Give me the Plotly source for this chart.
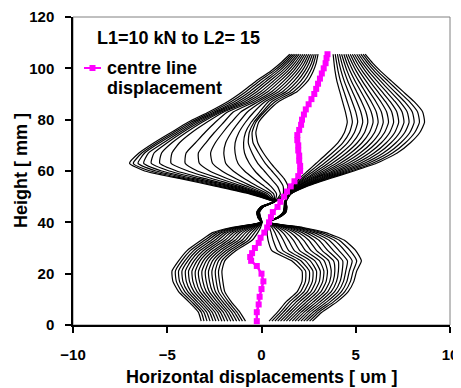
import plotly.graph_objects as go

# Heights (mm) at which every edge profile is sampled
HEIGHTS = [1.5, 5, 9, 13, 17, 21, 25, 29, 33, 36, 38, 40,
           42, 44, 46, 48,
           51, 54, 57, 60, 63, 67, 71, 75, 79, 83, 87, 91, 95, 99, 102, 105.5]

# Left-edge displacement profiles (um), outermost load step first
LEFT_LINES = [
    [-3.20,-3.35,-3.85,-4.40,-4.70,-4.75,-4.40,-3.95,-3.20,-2.60,-1.60,-0.05, -0.20,-0.25,-0.05,0.60, -0.60,-2.40,-4.30,-6.20,-7.00,-6.50,-5.70,-4.80,-3.90,-2.80,-1.80,-1.00,-0.30,0.50,1.00,1.50],
    [-3.05,-3.20,-3.70,-4.24,-4.52,-4.57,-4.24,-3.78,-3.02,-2.44,-1.50,-0.04, -0.19,-0.24,-0.04,0.61, -0.50,-2.20,-4.10,-5.90,-6.80,-6.35,-5.55,-4.65,-3.75,-2.65,-1.62,-0.81,-0.12,0.65,1.13,1.60],
    [-2.89,-3.06,-3.55,-4.07,-4.35,-4.40,-4.07,-3.60,-2.84,-2.28,-1.39,-0.03, -0.18,-0.23,-0.03,0.62, -0.40,-2.00,-3.85,-5.60,-6.55,-6.20,-5.40,-4.50,-3.60,-2.50,-1.44,-0.61,0.07,0.80,1.25,1.70],
    [-2.73,-2.91,-3.40,-3.91,-4.17,-4.22,-3.91,-3.43,-2.66,-2.12,-1.29,-0.03, -0.17,-0.22,-0.02,0.63, -0.30,-1.80,-3.60,-5.30,-6.25,-6.00,-5.20,-4.35,-3.45,-2.38,-1.26,-0.42,0.25,0.95,1.38,1.80],
    [-2.57,-2.76,-3.25,-3.75,-3.99,-4.04,-3.75,-3.26,-2.48,-1.96,-1.19,-0.02, -0.16,-0.21,-0.01,0.64, -0.20,-1.60,-3.30,-4.90,-5.85,-5.70,-5.00,-4.20,-3.30,-2.26,-1.08,-0.23,0.43,1.10,1.51,1.90],
    [-2.42,-2.62,-3.10,-3.58,-3.82,-3.87,-3.58,-3.08,-2.30,-1.80,-1.08,-0.02, -0.15,-0.20,0.00,0.65, -0.10,-1.40,-3.00,-4.50,-5.40,-5.30,-4.75,-4.00,-3.15,-2.14,-0.90,-0.03,0.62,1.25,1.63,2.00],
    [-2.26,-2.47,-2.95,-3.42,-3.64,-3.69,-3.42,-2.91,-2.12,-1.64,-0.98,-0.01, -0.14,-0.19,0.01,0.65, 0.00,-1.20,-2.60,-3.90,-4.80,-4.75,-4.35,-3.70,-2.90,-2.00,-0.72,0.16,0.80,1.40,1.76,2.10],
    [-2.10,-2.32,-2.80,-3.26,-3.46,-3.51,-3.26,-2.74,-1.94,-1.48,-0.88,-0.01, -0.13,-0.18,0.02,0.66, 0.10,-1.00,-2.20,-3.40,-4.05,-4.00,-3.50,-3.00,-2.45,-1.80,-0.54,0.35,0.98,1.55,1.89,2.20],
    [-1.95,-2.18,-2.65,-3.09,-3.29,-3.34,-3.09,-2.56,-1.76,-1.32,-0.77,0.00, -0.12,-0.17,0.03,0.66, 0.20,-0.75,-1.80,-2.75,-3.30,-3.35,-2.95,-2.50,-2.00,-1.50,-0.36,0.55,1.17,1.70,2.01,2.30],
    [-1.79,-2.03,-2.50,-2.93,-3.11,-3.16,-2.93,-2.39,-1.58,-1.16,-0.67,0.00, -0.11,-0.16,0.04,0.67, 0.35,-0.50,-1.35,-2.10,-2.60,-2.70,-2.45,-2.05,-1.60,-1.10,-0.18,0.74,1.35,1.85,2.14,2.40],
    [-1.63,-1.88,-2.35,-2.77,-2.93,-2.98,-2.77,-2.22,-1.40,-1.00,-0.57,0.01, -0.10,-0.15,0.05,0.68, 0.50,-0.20,-0.90,-1.50,-1.90,-2.00,-1.90,-1.60,-1.20,-0.75,0.00,0.93,1.53,2.00,2.27,2.50],
    [-1.48,-1.74,-2.20,-2.60,-2.76,-2.81,-2.60,-2.04,-1.22,-0.84,-0.46,0.01, -0.09,-0.14,0.06,0.68, 0.65,0.15,-0.40,-0.90,-1.25,-1.40,-1.40,-1.20,-0.85,-0.40,0.18,1.13,1.72,2.15,2.39,2.60],
    [-1.32,-1.59,-2.05,-2.44,-2.58,-2.63,-2.44,-1.87,-1.04,-0.68,-0.36,0.02, -0.08,-0.13,0.07,0.69, 0.80,0.50,0.05,-0.35,-0.65,-0.90,-0.95,-0.85,-0.55,-0.10,0.36,1.32,1.90,2.30,2.52,2.70],
    [-1.16,-1.44,-1.90,-2.28,-2.40,-2.45,-2.28,-1.70,-0.86,-0.52,-0.26,0.02, -0.07,-0.12,0.08,0.70, 1.00,0.85,0.50,0.15,-0.20,-0.50,-0.70,-0.65,-0.40,0.05,0.54,1.51,2.08,2.45,2.65,2.80],
    [-1.01,-1.30,-1.75,-2.11,-2.23,-2.28,-2.11,-1.52,-0.68,-0.36,-0.15,0.03, -0.06,-0.11,0.09,0.70, 1.15,1.15,0.90,0.55,0.20,-0.15,-0.45,-0.50,-0.30,0.15,0.72,1.71,2.27,2.60,2.77,2.90],
    [-0.85,-1.15,-1.60,-1.95,-2.05,-2.10,-1.95,-1.35,-0.50,-0.20,-0.05,0.03, -0.05,-0.10,0.10,0.71, 1.30,1.40,1.20,0.85,0.50,0.10,-0.20,-0.30,-0.15,0.30,0.90,1.90,2.45,2.75,2.90,3.00],
]

# Right-edge displacement profiles (um), outermost load step first
RIGHT_LINES = [
    [2.70,3.20,4.00,4.60,4.90,5.05,5.30,5.00,4.40,3.40,2.20,0.40, 0.95,1.30,1.35,1.30, 1.55,2.40,3.60,4.90,6.10,7.20,7.90,8.40,8.65,8.55,8.10,7.50,6.90,6.30,5.90,5.50],
    [2.55,3.04,3.82,4.42,4.72,4.86,5.05,4.70,4.13,3.19,2.07,0.39, 0.94,1.29,1.34,1.30, 1.54,2.35,3.49,4.74,5.89,6.95,7.64,8.13,8.38,8.28,7.85,7.28,6.71,6.14,5.76,5.39],
    [2.39,2.89,3.64,4.24,4.53,4.66,4.81,4.41,3.86,2.99,1.95,0.39, 0.94,1.28,1.33,1.29, 1.54,2.29,3.39,4.57,5.67,6.71,7.39,7.87,8.10,8.00,7.59,7.05,6.51,5.98,5.63,5.27],
    [2.24,2.73,3.46,4.06,4.35,4.47,4.56,4.11,3.59,2.78,1.82,0.38, 0.93,1.27,1.32,1.29, 1.53,2.24,3.28,4.41,5.46,6.46,7.13,7.60,7.83,7.73,7.34,6.83,6.32,5.82,5.49,5.16],
    [2.09,2.57,3.28,3.88,4.17,4.28,4.31,3.81,3.32,2.57,1.69,0.37, 0.93,1.26,1.31,1.28, 1.52,2.19,3.17,4.25,5.25,6.21,6.87,7.33,7.56,7.46,7.09,6.61,6.13,5.66,5.35,5.05],
    [1.93,2.42,3.10,3.70,3.98,4.08,4.07,3.52,3.05,2.37,1.57,0.37, 0.92,1.25,1.30,1.28, 1.52,2.13,3.07,4.08,5.03,5.97,6.62,7.07,7.28,7.18,6.83,6.38,5.93,5.50,5.22,4.93],
    [1.78,2.26,2.92,3.52,3.80,3.89,3.82,3.22,2.78,2.16,1.44,0.36, 0.92,1.24,1.29,1.27, 1.51,2.08,2.96,3.92,4.82,5.72,6.36,6.80,7.01,6.91,6.58,6.16,5.74,5.34,5.08,4.82],
    [1.63,2.10,2.74,3.34,3.62,3.70,3.57,2.92,2.51,1.95,1.31,0.35, 0.91,1.23,1.28,1.27, 1.50,2.03,2.85,3.76,4.61,5.47,6.10,6.53,6.74,6.64,6.33,5.94,5.55,5.18,4.94,4.71],
    [1.47,1.95,2.56,3.16,3.43,3.50,3.33,2.63,2.24,1.75,1.19,0.35, 0.91,1.22,1.27,1.26, 1.50,1.97,2.75,3.59,4.39,5.23,5.85,6.27,6.46,6.36,6.07,5.71,5.35,5.02,4.81,4.59],
    [1.32,1.79,2.38,2.98,3.25,3.31,3.08,2.33,1.97,1.54,1.06,0.34, 0.90,1.21,1.26,1.26, 1.49,1.92,2.64,3.43,4.18,4.98,5.59,6.00,6.19,6.09,5.82,5.49,5.16,4.86,4.67,4.48],
    [1.17,1.63,2.20,2.80,3.07,3.12,2.83,2.03,1.70,1.33,0.93,0.33, 0.89,1.20,1.25,1.25, 1.48,1.87,2.53,3.27,3.97,4.73,5.33,5.73,5.92,5.82,5.57,5.27,4.97,4.70,4.53,4.37],
    [1.01,1.48,2.02,2.62,2.88,2.92,2.59,1.74,1.43,1.13,0.81,0.33, 0.89,1.19,1.24,1.25, 1.48,1.81,2.43,3.10,3.75,4.49,5.08,5.47,5.64,5.54,5.31,5.04,4.77,4.54,4.40,4.25],
    [0.86,1.32,1.84,2.44,2.70,2.73,2.34,1.44,1.16,0.92,0.68,0.32, 0.88,1.18,1.23,1.24, 1.47,1.76,2.32,2.94,3.54,4.24,4.82,5.20,5.37,5.27,5.06,4.82,4.58,4.38,4.26,4.14],
    [0.71,1.16,1.66,2.26,2.52,2.54,2.09,1.14,0.89,0.71,0.55,0.31, 0.87,1.17,1.22,1.24, 1.46,1.71,2.21,2.78,3.33,3.99,4.56,4.93,5.10,5.00,4.81,4.60,4.39,4.22,4.12,4.03],
    [0.55,1.01,1.48,2.08,2.33,2.34,1.85,0.85,0.62,0.51,0.43,0.31, 0.86,1.16,1.21,1.23, 1.46,1.65,2.11,2.61,3.11,3.75,4.31,4.67,4.82,4.72,4.55,4.37,4.19,4.06,3.99,3.91],
    [0.40,0.85,1.30,1.90,2.15,2.15,1.60,0.55,0.35,0.30,0.30,0.30, 0.85,1.15,1.20,1.22, 1.45,1.60,2.00,2.45,2.90,3.50,4.05,4.40,4.55,4.45,4.30,4.15,4.00,3.90,3.85,3.80],
]

# Centre line displacement
CENTRE_H = [1.5, 5, 8, 11, 14, 17, 20, 23, 25, 26.5, 28, 30, 32, 34, 36, 38, 40, 42, 44, 46,
            48, 50, 52, 54, 56, 58, 60, 62, 64, 66, 68, 70, 72, 74, 76, 78, 80, 82, 84, 86,
            88, 90, 92, 94, 96, 98, 100, 102, 104, 105.5]
CENTRE_X = [-0.25, -0.25, -0.15, -0.1, 0.0, 0.1, 0.0, -0.25, -0.55, -0.6, -0.5, -0.35, -0.15, -0.05, 0.15, 0.3, 0.4, 0.5, 0.6, 0.85,
            1.0, 1.2, 1.35, 1.55, 1.75, 1.95, 2.05, 2.05, 2.0, 2.0, 1.95, 1.95, 1.9, 1.9, 2.0, 2.1, 2.15, 2.25, 2.35, 2.5,
            2.65, 2.8, 2.9, 3.0, 3.1, 3.2, 3.3, 3.4, 3.45, 3.5]

X_TICKS = [-10, -5, 0, 5, 10]
Y_TICKS = [0, 20, 40, 60, 80, 100, 120]

FONT = "Liberation Sans, Arial, sans-serif"
MAGENTA = "#FF00FF"

fig = go.Figure()
for line in LEFT_LINES + RIGHT_LINES:
    fig.add_trace(go.Scatter(x=line, y=HEIGHTS, mode="lines",
                             line=dict(color="black", width=1.2, shape="spline", smoothing=0.5),
                             showlegend=False, hoverinfo="skip"))
fig.add_trace(go.Scatter(x=CENTRE_X, y=CENTRE_H, mode="lines+markers",
                         line=dict(color=MAGENTA, width=2.5),
                         marker=dict(symbol="square", size=6, color=MAGENTA),
                         name="centre line displacement", showlegend=False))

# The page body adds an 8 px offset; target plot area on the page: x 73..450, y 17..325
OFF = 8
W, H = 461 - OFF, 388 - OFF
L, T = 73 - OFF, 17 - OFF
R = W - (450 - OFF)
B = H - (325 - OFF)
PW, PH = W - L - R, H - T - B
def px(xpage):
    return (xpage - OFF - L) / PW
def py(ypage):
    return (H - B - (ypage - OFF)) / PH

axis_common = dict(showgrid=False, zeroline=False, showline=True, linecolor="black",
                   linewidth=1.5, ticks="outside", tickcolor="black", tickwidth=1.5,
                   automargin=False, ticklabeloverflow="allow",
                   tickfont=dict(family=FONT, size=15, color="black", weight="bold"))
fig.update_layout(
    width=W, height=H, margin=dict(l=L, r=R, t=T, b=B, autoexpand=False),
    paper_bgcolor="white", plot_bgcolor="white",
    xaxis=dict(range=[-10, 10], tickvals=X_TICKS, ticklen=6, ticklabelstandoff=9, **axis_common),
    yaxis=dict(range=[0, 120], tickvals=Y_TICKS, ticklen=6, ticklabelstandoff=8, **axis_common),
    shapes=[
        dict(type="rect", xref="paper", yref="paper", x0=0, x1=1, y0=0, y1=1,
             line=dict(color="#808080", width=1), layer="below"),
        dict(type="line", xref="paper", yref="paper", x0=px(84), x1=px(101), y0=py(68), y1=py(68),
             line=dict(color=MAGENTA, width=2)),
        dict(type="rect", xref="paper", yref="paper", x0=px(89.5), x1=px(95.5), y0=py(71), y1=py(65),
             line=dict(color=MAGENTA, width=0), fillcolor=MAGENTA),
    ],
    annotations=[
        dict(text="L1=10 kN to L2= 15", xref="paper", yref="paper", x=px(95), y=py(38.5),
             xanchor="left", yanchor="middle", showarrow=False,
             font=dict(family=FONT, size=18, color="black", weight="bold")),
        dict(text="centre line", xref="paper", yref="paper", x=px(105), y=py(68),
             xanchor="left", yanchor="middle", showarrow=False,
             font=dict(family=FONT, size=18, color="black", weight="bold")),
        dict(text="displacement", xref="paper", yref="paper", x=px(105), y=py(88),
             xanchor="left", yanchor="middle", showarrow=False,
             font=dict(family=FONT, size=18, color="black", weight="bold")),
        dict(text="Horizontal displacements [ υm ]", xref="paper", yref="paper", x=0.5, y=py(377),
             xanchor="center", yanchor="middle", showarrow=False,
             font=dict(family=FONT, size=18, color="black", weight="bold")),
        dict(text="Height [ mm ]", xref="paper", yref="paper", x=px(21), y=0.5, textangle=-90,
             xanchor="center", yanchor="middle", showarrow=False,
             font=dict(family=FONT, size=18, color="black", weight="bold")),
    ],
)
fig.write_html("out.html")
